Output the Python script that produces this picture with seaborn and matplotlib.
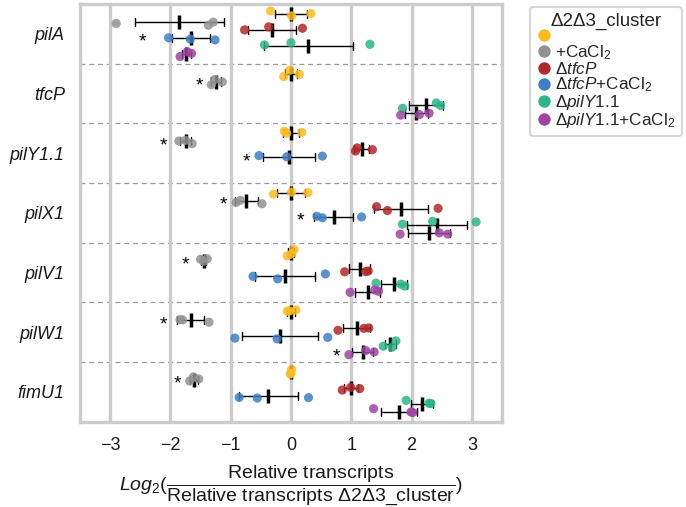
import numpy as np
import pandas as pd
import matplotlib
matplotlib.use("Agg")
import matplotlib.pyplot as plt
import seaborn as sns

# ---------------- data ----------------
genes = ["pilA", "tfcP", "pilY1.1", "pilX1", "pilV1", "pilW1", "fimU1"]
strain_keys = ["d2d3", "cacl2", "tfcp", "tfcp_cacl2", "pily", "pily_cacl2"]
strain_labels = ["", "+CaCl$_2$", "Δ$\\it{tfcP}$", "Δ$\\it{tfcP}$+CaCl$_2$",
                 "Δ$\\it{pilY}$1.1", "Δ$\\it{pilY}$1.1+CaCl$_2$"]
colors = ["#FDBB1E", "#929292", "#B3282A", "#3D7FC4", "#2AB688", "#A044A3"]

# triplicate log2 ratios per gene (order of `genes`); None = not measured
d2d3 = [[-0.34, 0.01, 0.33], [-0.12, -0.02, 0.14], [-0.11, -0.07, 0.18],
        [-0.29, 0.01, 0.28], [-0.06, 0.01, 0.05], [-0.06, -0.02, 0.08],
        [-0.01, 0.00, 0.01]]
cacl2 = [[-2.90, -1.37, -1.29], [-1.32, -1.27, -1.14], [-1.86, -1.75, -1.64],
         [-0.91, -0.84, -0.48], [-1.50, -1.45, -1.39], [-1.84, -1.80, -1.36],
         [-1.68, -1.62, -1.53]]
tfcp = [[-0.77, -0.37, 0.19], None, [1.07, 1.10, 1.35],
        [1.42, 1.60, 2.44], [0.89, 1.24, 1.28], [0.78, 1.21, 1.29],
        [0.85, 0.99, 1.14]]
tfcp_cacl2 = [[-2.03, -1.67, -1.26], None, [-0.53, -0.07, 0.52],
              [0.43, 0.52, 1.17], [-0.63, -0.22, 0.57], [-0.93, -0.23, 0.61],
              [-0.86, -0.56, 0.29]]
pily = [[-0.44, 0.00, 1.31], [1.85, 2.41, 2.48], None,
        [1.85, 2.35, 3.07], [1.41, 1.82, 1.89], [1.53, 1.68, 1.74],
        [1.91, 2.29, 2.32]]
pily_cacl2 = [[-1.84, -1.72, -1.65], [1.82, 2.13, 2.29], None,
              [1.81, 2.46, 2.60], [0.98, 1.39, 1.45], [0.96, 1.24, 1.38],
              [1.37, 1.99, 2.02]]

# significance asterisks: (gene, strain, x position of the star)
stars = [("pilA", "tfcp_cacl2", -2.47), ("tfcP", "cacl2", -1.51),
         ("pilY1.1", "cacl2", -2.11), ("pilY1.1", "tfcp_cacl2", -0.74),
         ("pilX1", "cacl2", -1.12), ("pilX1", "tfcp_cacl2", 0.16),
         ("pilV1", "cacl2", -1.75), ("pilW1", "cacl2", -2.12),
         ("pilW1", "pily_cacl2", 0.76), ("fimU1", "cacl2", -1.88)]

xticks = [-3, -2, -1, 0, 1, 2, 3]

# ---------------- build table ----------------
rows = []
for key, series in zip(strain_keys, [d2d3, cacl2, tfcp, tfcp_cacl2, pily, pily_cacl2]):
    for g, trip in zip(genes, series):
        if trip is None:
            continue
        for v in trip:
            rows.append({"gene": g, "strain": key, "value": v})
df = pd.DataFrame(rows)

# ---------------- style ----------------
sns.set_theme(style="whitegrid")
plt.rcParams["font.family"] = ["Liberation Sans", "DejaVu Sans"]
plt.rcParams["mathtext.fontset"] = "custom"
plt.rcParams["mathtext.rm"] = "Liberation Sans"
plt.rcParams["mathtext.it"] = "Liberation Sans:italic"
plt.rcParams["mathtext.bf"] = "Liberation Sans:bold"
plt.rcParams["mathtext.sf"] = "Liberation Sans"

fig = plt.figure(figsize=(6.86, 5.07), dpi=100)
ax = fig.add_axes([80 / 686, 1 - 421.7 / 507, 422 / 686, (421.7 - 4) / 507])

palette = dict(zip(strain_keys, colors))
np.random.seed(7)
sns.stripplot(data=df, x="value", y="gene", hue="strain", order=genes,
              hue_order=strain_keys, palette=palette, dodge=True, jitter=0.35,
              size=6.6, alpha=0.85, linewidth=0, ax=ax)


def sd_pop(x):
    a = np.asarray(x, dtype=float)
    return a.mean() - a.std(), a.mean() + a.std()


nhue = len(strain_keys)
sns.pointplot(data=df, x="value", y="gene", hue="strain", order=genes,
              hue_order=strain_keys, palette={k: "black" for k in strain_keys},
              dodge=0.8 * (nhue - 1) / nhue, errorbar=sd_pop, markers="|",
              linestyles="none", capsize=0.14, markersize=9.5,
              markeredgewidth=2.5, err_kws={"linewidth": 1.0},
              legend=False, ax=ax)

# row separators
for i in range(len(genes) - 1):
    ax.axhline(i + 0.5, color="#9a9a9a", ls=(0, (4, 3)), lw=0.9, zorder=0.5)

# asterisks
step = 0.8 / nhue
for g, s, xs in stars:
    yy = genes.index(g) - 0.4 + step / 2 + strain_keys.index(s) * step
    ax.text(xs, yy + 0.075, "*", ha="center", va="center", fontsize=14,
            color="black")

ax.set_xlim(-3.5, 3.5)
ax.set_ylim(len(genes) - 0.5, -0.5)
ax.set_xticks(xticks)
ax.grid(axis="x", color="#cccccc", linewidth=2.4)
ax.grid(axis="y", visible=False)
for sp in ax.spines.values():
    sp.set_visible(True)
    sp.set_color("#cccccc")
    sp.set_linewidth(2.4)
ax.tick_params(axis="both", length=0, pad=11, labelsize=13, colors="#1a1a1a")
for lbl in ax.get_yticklabels():
    lbl.set_fontstyle("italic")
ax.set_ylabel("")
ax.set_xlabel(r"$\mathit{Log}_2(\dfrac{\mathrm{Relative\ transcripts}}"
              r"{\mathrm{Relative\ transcripts\ \Delta 2\Delta 3\_cluster}})$",
              fontsize=14, labelpad=7, color="#1a1a1a")

# legend
old = ax.get_legend()
handles = list(old.legend_handles)
for h in handles:
    h.set_alpha(1)
leg = ax.legend(handles, strain_labels, title="Δ2Δ3_cluster", loc="upper left",
                bbox_to_anchor=(1.066, 0.993), borderaxespad=0, fontsize=12.3,
                title_fontsize=13.5, frameon=True, handletextpad=0.25,
                labelspacing=-0.06, borderpad=0.35, handlelength=0.9,
                markerscale=1.35)
leg.get_frame().set_edgecolor("#cccccc")
leg.get_frame().set_linewidth(1.5)

fig.savefig("out.png", dpi=100)
